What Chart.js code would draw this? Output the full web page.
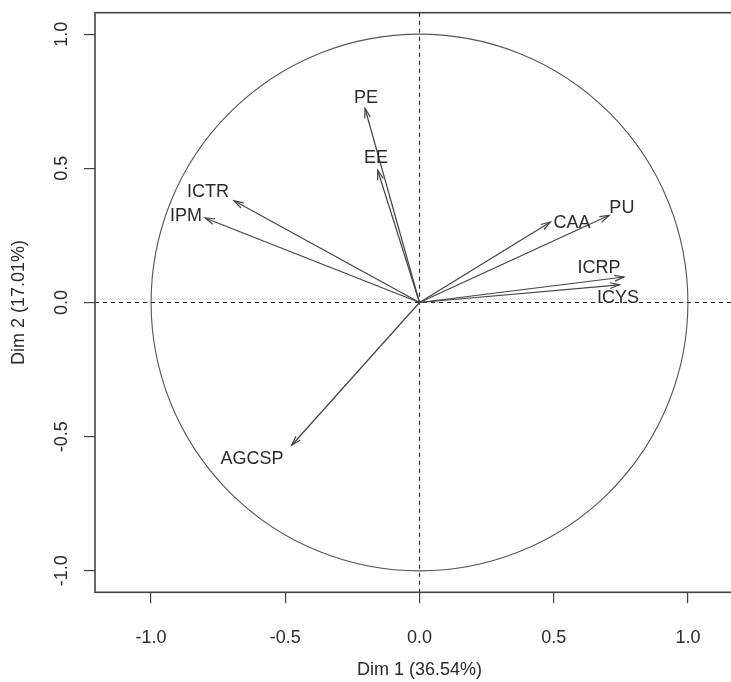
<!DOCTYPE html>
<html>
<head>
<meta charset="utf-8">
<script src="https://cdn.jsdelivr.net/npm/chart.js@4.4.1/dist/chart.umd.min.js"></script>
<style>
  html, body { margin: 0; padding: 0; background: #fff; overflow: hidden; }
  #wrap { width: 760px; height: 682px; }
</style>
</head>
<body>
<div id="wrap"><canvas id="pca"></canvas></div>
<script>
// variables of the correlation circle
const variables = ['PE', 'EE', 'ICTR', 'IPM', 'CAA', 'PU', 'ICRP', 'ICYS', 'AGCSP'];
const dim1 = [-0.203, -0.156, -0.691, -0.799, 0.488, 0.707, 0.762, 0.745, -0.476];
const dim2 = [0.723, 0.493, 0.379, 0.315, 0.300, 0.325, 0.095, 0.066, -0.532];
// where the labels were put (data units)
const labelX = [-0.199, -0.162, -0.788, -0.870, 0.568, 0.754, 0.669, 0.740, -0.624];
const labelY = [0.761, 0.538, 0.411, 0.322, 0.296, 0.351, 0.128, 0.016, -0.584];

const xTicks = [-1.0, -0.5, 0.0, 0.5, 1.0];
const yTicks = [-1.0, -0.5, 0.0, 0.5, 1.0];
const xTitle = 'Dim 1 (36.54%)';
const yTitle = 'Dim 2 (17.01%)';

const FONT = 'Liberation Sans, Arial, sans-serif';
const INK = '#2a2a2a';

const datasets = variables.map((name, i) => ({
    label: name,
    data: [{ x: 0, y: 0 }, { x: dim1[i], y: dim2[i] }],
    showLine: true,
    borderColor: '#444',
    borderWidth: 1.2,
    pointRadius: 0
}));

const pcaPlugin = {
    id: 'pca',
    beforeDatasetsDraw(chart) {
        const { ctx, chartArea: a, scales: { x, y } } = chart;
        ctx.save();
        // unit circle
        ctx.strokeStyle = '#555';
        ctx.lineWidth = 1.1;
        ctx.beginPath();
        ctx.arc(x.getPixelForValue(0), y.getPixelForValue(0),
            x.getPixelForValue(1) - x.getPixelForValue(0), 0, Math.PI * 2);
        ctx.stroke();
        // dashed axes through origin
        ctx.setLineDash([4, 4]);
        ctx.strokeStyle = '#222';
        ctx.lineWidth = 1.1;
        ctx.beginPath();
        ctx.moveTo(x.getPixelForValue(0), a.top);
        ctx.lineTo(x.getPixelForValue(0), a.bottom);
        ctx.moveTo(a.left, y.getPixelForValue(0));
        ctx.lineTo(a.right, y.getPixelForValue(0));
        ctx.stroke();
        ctx.restore();
    },
    afterDatasetsDraw(chart) {
        const { ctx, chartArea: a, scales: { x, y } } = chart;
        ctx.save();
        // arrow heads
        ctx.strokeStyle = '#444';
        ctx.lineWidth = 1.2;
        const head = 10, ang = 17 * Math.PI / 180;
        variables.forEach((name, i) => {
            const x0 = x.getPixelForValue(0), y0 = y.getPixelForValue(0);
            const x1 = x.getPixelForValue(dim1[i]), y1 = y.getPixelForValue(dim2[i]);
            const t = Math.atan2(y1 - y0, x1 - x0);
            ctx.beginPath();
            ctx.moveTo(x1 - head * Math.cos(t - ang), y1 - head * Math.sin(t - ang));
            ctx.lineTo(x1, y1);
            ctx.lineTo(x1 - head * Math.cos(t + ang), y1 - head * Math.sin(t + ang));
            ctx.stroke();
        });
        // variable names
        ctx.fillStyle = INK;
        ctx.font = '18px ' + FONT;
        ctx.textAlign = 'center';
        ctx.textBaseline = 'middle';
        variables.forEach((name, i) => {
            ctx.fillText(name, x.getPixelForValue(labelX[i]), y.getPixelForValue(labelY[i]));
        });
        // box
        ctx.strokeStyle = '#444';
        ctx.lineWidth = 1.6;
        ctx.strokeRect(a.left, a.top, a.right - a.left, a.bottom - a.top);
        // rotated y tick labels
        ctx.fillStyle = INK;
        y.ticks.forEach(t => {
            ctx.save();
            ctx.translate(62, y.getPixelForValue(t.value));
            ctx.rotate(-Math.PI / 2);
            ctx.fillText(t.value.toFixed(1), 0, 0);
            ctx.restore();
        });
        ctx.restore();
    }
};

new Chart(document.getElementById('pca'), {
    type: 'scatter',
    data: { datasets: datasets },
    options: {
        responsive: true,
        maintainAspectRatio: false,
        animation: false,
        layout: { padding: { top: 12.7, right: 16, left: 0, bottom: 0 } },
        plugins: {
            legend: { display: false },
            tooltip: { enabled: false }
        },
        scales: {
            x: {
                type: 'linear',
                min: -1.209,
                max: 1.209,
                afterBuildTicks: s => { s.ticks = xTicks.map(v => ({ value: v })); },
                afterFit: s => { s.height = 89.7; },
                border: { display: false },
                grid: { drawOnChartArea: false, drawTicks: true, tickLength: 11, color: '#444', lineWidth: 1.2 },
                ticks: {
                    color: INK,
                    font: { family: FONT, size: 18 },
                    padding: 24,
                    maxRotation: 0,
                    callback: v => Number(v).toFixed(1)
                },
                title: {
                    display: true,
                    text: xTitle,
                    color: INK,
                    font: { family: FONT, size: 18 },
                    padding: { top: 0, bottom: 1 }
                }
            },
            y: {
                type: 'linear',
                min: -1.08,
                max: 1.08,
                afterBuildTicks: s => { s.ticks = yTicks.map(v => ({ value: v })); },
                afterFit: s => { s.width = 95; },
                border: { display: false },
                grid: { drawOnChartArea: false, drawTicks: true, tickLength: 11, color: '#444', lineWidth: 1.2 },
                ticks: { display: false },
                title: {
                    display: true,
                    text: yTitle,
                    color: INK,
                    font: { family: FONT, size: 18 },
                    padding: { top: 8, bottom: 0 }
                }
            }
        }
    },
    plugins: [pcaPlugin]
});
</script>
</body>
</html>
